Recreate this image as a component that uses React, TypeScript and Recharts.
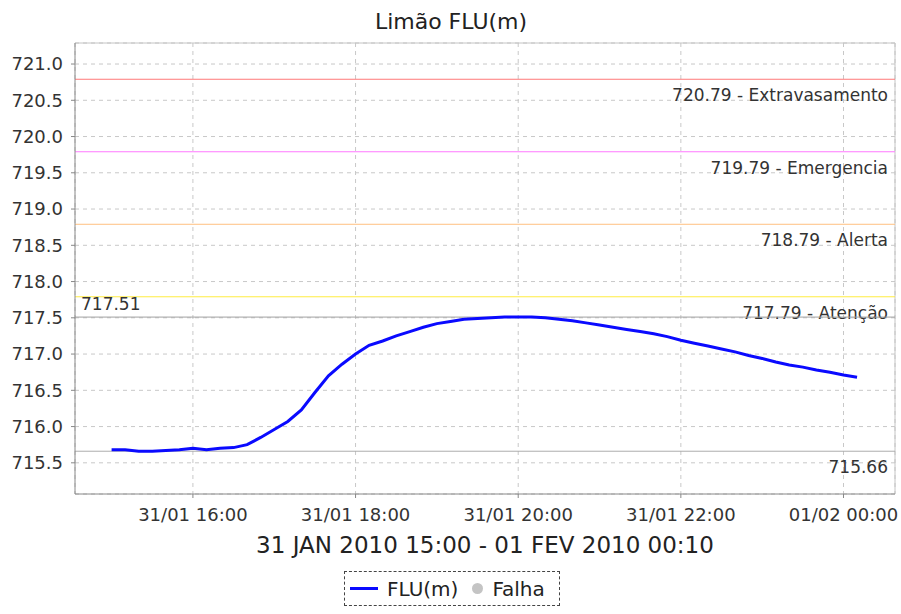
import React from 'react';
import { LineChart, Line, XAxis, YAxis, CartesianGrid, ReferenceLine } from 'recharts';

// readings every 10 minutes, 31/01 15:00 -> 01/02 00:10
const times = [
  '15:00', '15:10', '15:20', '15:30', '15:40', '15:50',
  '16:00', '16:10', '16:20', '16:30', '16:40', '16:50',
  '17:00', '17:10', '17:20', '17:30', '17:40', '17:50',
  '18:00', '18:10', '18:20', '18:30', '18:40', '18:50',
  '19:00', '19:10', '19:20', '19:30', '19:40', '19:50',
  '20:00', '20:10', '20:20', '20:30', '20:40', '20:50',
  '21:00', '21:10', '21:20', '21:30', '21:40', '21:50',
  '22:00', '22:10', '22:20', '22:30', '22:40', '22:50',
  '23:00', '23:10', '23:20', '23:30', '23:40', '23:50',
  '00:00', '00:10',
];

const levels = [
  715.68, 715.68, 715.66, 715.66, 715.67, 715.68,
  715.7, 715.68, 715.7, 715.71, 715.75, 715.85,
  715.96, 716.07, 716.23, 716.47, 716.7, 716.86,
  717.0, 717.12, 717.18, 717.25, 717.31, 717.37,
  717.42, 717.45, 717.48, 717.49, 717.5, 717.51,
  717.51, 717.51, 717.5, 717.48, 717.46, 717.43,
  717.4, 717.37, 717.34, 717.31, 717.28, 717.24,
  717.19, 717.15, 717.11, 717.07, 717.03, 716.98,
  716.94, 716.89, 716.85, 716.82, 716.78, 716.75,
  716.71, 716.68,
];

const limits = [
  { value: 720.79, name: 'Extravasamento', color: '#ff7878' },
  { value: 719.79, name: 'Emergencia', color: '#ff78ff' },
  { value: 718.79, name: 'Alerta', color: '#ffc080' },
  { value: 717.79, name: 'Atenção', color: '#ffec40' },
];

const maxLevel = 717.51;
const minLevel = 715.66;

const yTicks = [715.5, 716.0, 716.5, 717.0, 717.5, 718.0, 718.5, 719.0, 719.5, 720.0, 720.5, 721.0];
const xTickTimes = ['16:00', '18:00', '20:00', '22:00', '00:00'];

const Y_MIN = 715.07;
const Y_MAX = 721.29;
const X_MIN = 873;
const X_MAX = 1478;

const toMinutes = (hhmm: string) => {
  const [h, m] = hhmm.split(':').map(Number);
  return (h < 12 ? h + 24 : h) * 60 + m;
};

const data = times.map((t, i) => ({ t: toMinutes(t), flu: levels[i] }));
const xTicks = xTickTimes.map(toMinutes);

const formatX = (v: number) => {
  const day = v >= 1440 ? '01/02' : '31/01';
  const mins = v % 1440;
  const h = String(Math.floor(mins / 60)).padStart(2, '0');
  const m = String(mins % 60).padStart(2, '0');
  return `${day} ${h}:${m}`;
};

const FONT = 'DejaVu Sans';

const labelBelowRight = (text: string) => (props: any) => {
  const { viewBox } = props;
  return (
    <text
      x={viewBox.x + viewBox.width - 7}
      y={viewBox.y + 22}
      textAnchor="end"
      fontSize={17}
      fontFamily={FONT}
      fill="#333"
    >
      {text}
    </text>
  );
};

const labelAboveLeft = (text: string) => (props: any) => {
  const { viewBox } = props;
  return (
    <text x={viewBox.x + 6} y={viewBox.y - 7} fontSize={17} fontFamily={FONT} fill="#333">
      {text}
    </text>
  );
};

export default function App() {
  return (
    <div
      style={{
        position: 'absolute',
        left: 0,
        top: 0,
        width: 901,
        height: 614,
        background: '#fff',
        fontFamily: FONT,
      }}
    >
      <svg width={901} height={40} style={{ position: 'absolute', left: 0, top: 0 }}>
        <text x={451} y={29} textAnchor="middle" fontSize={22} fontFamily={FONT} fill="#222">
          Limão FLU(m)
        </text>
      </svg>

      <div style={{ position: 'absolute', left: 0, top: 0 }}>
        <LineChart width={901} height={614} data={data} margin={{ top: 43, right: 6, bottom: 90, left: 0 }}>
          <CartesianGrid stroke="#c8c8c8" strokeDasharray="4 4" />
          <XAxis
            dataKey="t"
            type="number"
            domain={[X_MIN, X_MAX]}
            ticks={xTicks}
            tickFormatter={formatX}
            height={30}
            tickSize={4}
            tickMargin={10}
            stroke="#888"
            tick={{ fontSize: 18, fontFamily: FONT, fill: '#333' }}
            label={{
              value: '31 JAN 2010 15:00 - 01 FEV 2010 00:10',
              position: 'bottom',
              offset: 13,
              fontSize: 23,
              fontFamily: FONT,
              fill: '#222',
            }}
          />
          <YAxis
            type="number"
            domain={[Y_MIN, Y_MAX]}
            ticks={yTicks}
            tickFormatter={(v: number) => v.toFixed(1)}
            width={75}
            tickSize={4}
            tickMargin={8}
            stroke="#888"
            tick={{ fontSize: 18, fontFamily: FONT, fill: '#333' }}
          />
          <ReferenceLine y={Y_MAX} stroke="#c4c4c4" />
          <ReferenceLine x={X_MAX} stroke="#c4c4c4" />
          {limits.map((l) => (
            <ReferenceLine
              key={l.name}
              y={l.value}
              stroke={l.color}
              strokeWidth={1}
              label={labelBelowRight(`${l.value.toFixed(2)} - ${l.name}`)}
            />
          ))}
          <ReferenceLine y={maxLevel} stroke="#a0a0a0" strokeWidth={1} label={labelAboveLeft(maxLevel.toFixed(2))} />
          <ReferenceLine y={minLevel} stroke="#acacac" strokeWidth={1} label={labelBelowRight(minLevel.toFixed(2))} />
          <Line
            type="linear"
            dataKey="flu"
            name="FLU(m)"
            stroke="#0a0aff"
            strokeWidth={3}
            dot={false}
            isAnimationActive={false}
          />
        </LineChart>
      </div>

      <div
        style={{
          position: 'absolute',
          left: 344,
          top: 571,
          width: 216,
          height: 35,
          boxSizing: 'border-box',
          border: '1px dashed #444',
          display: 'flex',
          alignItems: 'center',
          fontSize: 20,
          color: '#222',
        }}
      >
        <span style={{ display: 'inline-block', width: 28, height: 3, background: '#0a0aff', marginLeft: 5 }} />
        <span style={{ marginLeft: 9 }}>FLU(m)</span>
        <span
          style={{
            display: 'inline-block',
            width: 11,
            height: 11,
            borderRadius: '50%',
            background: '#c4c4c4',
            marginLeft: 14,
          }}
        />
        <span style={{ marginLeft: 9 }}>Falha</span>
      </div>
    </div>
  );
}
